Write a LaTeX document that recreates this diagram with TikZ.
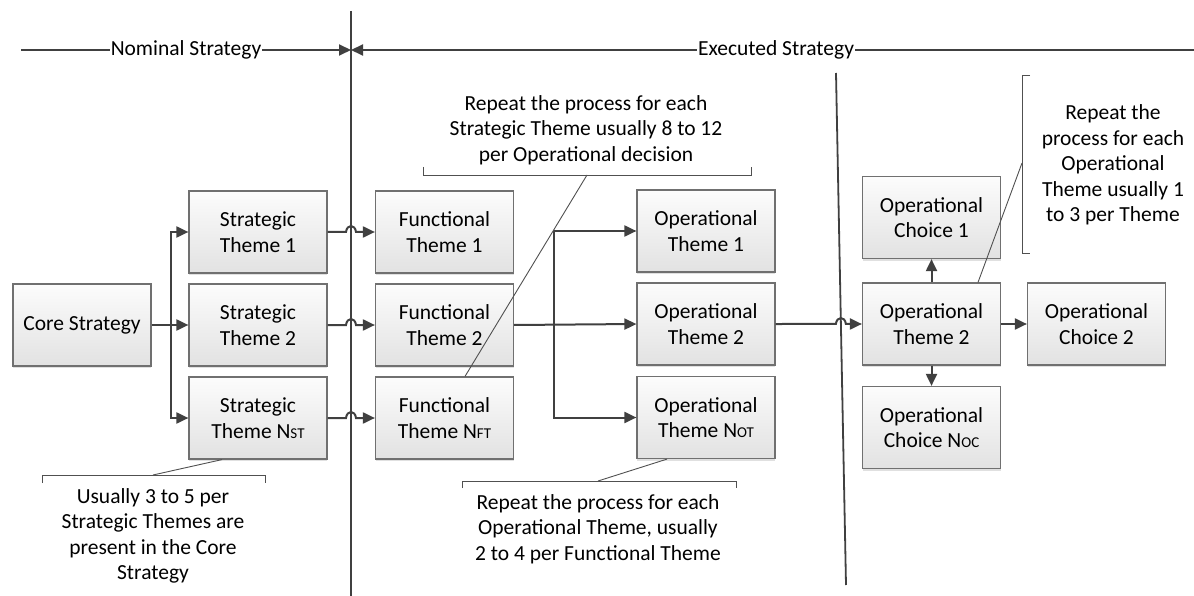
\documentclass[tikz,border=0pt]{standalone}
\usepackage{fontspec}
\setmainfont{Carlito}
\usetikzlibrary{arrows.meta,shadows,calc}

\definecolor{linec}{RGB}{64,64,64}
\definecolor{boxline}{RGB}{112,112,112}
\definecolor{boxtop}{RGB}{252,252,252}
\definecolor{boxbot}{RGB}{226,226,226}
\definecolor{callc}{RGB}{80,80,80}

\newcommand\bodyfont{\fontsize{21.5}{25.5}\selectfont}
\newcommand\subtag[1]{{\fontsize{15}{15}\selectfont #1}}

\tikzset{
  tbox/.style={draw=boxline, line width=1.2pt, top color=boxtop, bottom color=boxbot,
    minimum width=138pt, minimum height=82pt, align=center, inner sep=0pt, font=\bodyfont,
    drop shadow={shadow xshift=0pt, shadow yshift=-2pt, fill=black, opacity=0.12}},
  conn/.style={draw=linec, line width=2pt},
  arr/.style={conn, -{Triangle[length=12pt,width=11pt]}},
  divider/.style={draw=linec, line width=1.8pt},
  callout/.style={draw=callc, line width=0.9pt},
  note/.style={align=center, font=\bodyfont, inner sep=0pt},
  head/.style={font=\bodyfont, inner sep=1pt},
}

\begin{document}
\begin{tikzpicture}[x=1pt,y=-1pt]
\useasboundingbox (0,0) rectangle (1194,596);

% phase dividers
\coordinate (v1t) at (351,11);
\coordinate (v1b) at (351,596);
\coordinate (v2t) at (836,73);
\coordinate (v2b) at (846,585);
\draw[divider] (v1t) -- (v1b);
\draw[divider] (v2t) -- (v2b);

% header
\coordinate (hl) at (21,50);
\coordinate (hm) at (351,50);
\coordinate (hr) at (1194,50);
\node[head] (nom) at (186,50) {Nominal Strategy};
\node[head] (exe) at (776,50) {Executed Strategy};
\draw[conn] (hl) -- (nom.west);
\draw[arr] (nom.east) -- (hm);
\draw[arr] (exe.west) -- (hm);
\draw[conn] (exe.east) -- (hr);

% boxes
\node[tbox] (core) at (82,325) {Core Strategy};
\node[tbox] (st1) at (258,232) {Strategic\\Theme 1};
\node[tbox] (st2) at (258,325) {Strategic\\Theme 2};
\node[tbox] (stN) at (258,418) {Strategic\\Theme N\subtag{ST}};
\node[tbox] (ft1) at (444.5,232) {Functional\\Theme 1};
\node[tbox] (ft2) at (444.5,325) {Functional\\Theme 2};
\node[tbox] (ftN) at (444.5,418) {Functional\\Theme N\subtag{FT}};
\node[tbox] (ot1) at (706,231) {Operational\\Theme 1};
\node[tbox] (ot2) at (706,324) {Operational\\Theme 2};
\node[tbox] (otN) at (706,417.5) {Operational\\Theme N\subtag{OT}};
\node[tbox] (rot2) at (931.5,324) {Operational\\Theme 2};
\node[tbox] (oc1) at (931.5,217.5) {Operational\\Choice 1};
\node[tbox] (oc2) at (1096.5,324) {Operational\\Choice 2};
\node[tbox] (ocN) at (931.5,427.5) {Operational\\Choice N\subtag{OC}};

% core strategy to strategic themes
\coordinate (b1) at (171,325);
\draw[arr] (core.east) -- (st2.west);
\draw[arr] (b1) |- (st1.west);
\draw[arr] (b1) |- (stN.west);

% strategic to functional themes, hopping over the divider
\foreach \a/\b in {st1/ft1, st2/ft2, stN/ftN}{
  \draw[arr] (\a.east) -- ($(\a.east -| v1t)+(-5,0)$)
    .. controls +(1,-8) and +(-1,-8) .. ($(\a.east -| v1t)+(5,0)$) -- (\b.west);
}

% functional theme 2 to operational themes
\coordinate (b2) at (554,325);
\draw[arr] (ft2.east) -- (ot2.west);
\draw[arr] (b2) |- (ot1.west);
\draw[arr] (b2) |- (otN.west);

% operational theme 2 across the second divider
\coordinate (x2) at (intersection of ot2.east--rot2.west and v2t--v2b);
\draw[arr] (ot2.east) -- ($(x2)+(-5,0)$)
  .. controls +(1,-8) and +(-1,-8) .. ($(x2)+(5,0)$) -- (rot2.west);

% operational theme 2 to its choices
\draw[arr] (rot2.north) -- (oc1.south);
\draw[arr] (rot2.east) -- (oc2.west);
\draw[arr] (rot2.south) -- (ocN.north);

% callout: strategic themes repeat
\node[note] (n1) at (586,130) {Repeat the process for each\\Strategic Theme usually 8 to 12\\per Operational decision};
\coordinate (n1a) at (423,167);
\coordinate (n1b) at (751,167);
\coordinate (n1c) at (587,175);
\draw[callout] (n1a) -- (n1a |- n1c) -- (n1b |- n1c) -- (n1b);
\draw[callout] (n1c) -- ([xshift=20.5pt]ftN.north);

% callout: strategic themes per core strategy
\node[note] (n2) at (153,536) {Usually 3 to 5 per\\Strategic Themes are\\present in the Core\\Strategy};
\coordinate (n2a) at (42,483);
\coordinate (n2b) at (265,483);
\coordinate (n2c) at (153,475);
\draw[callout] (n2a) -- (n2a |- n2c) -- (n2b |- n2c) -- (n2b);
\draw[callout] (n2c) -- ([xshift=-36pt]stN.south);

% callout: operational themes repeat
\node[note] (n3) at (598,529) {Repeat the process for each\\Operational Theme, usually\\2 to 4 per Functional Theme};
\coordinate (n3a) at (462,488);
\coordinate (n3b) at (736,488);
\coordinate (n3c) at (598,481);
\draw[callout] (n3a) -- (n3a |- n3c) -- (n3b |- n3c) -- (n3b);
\draw[callout] (n3c) -- ([xshift=-39pt]otN.south);

% callout: operational choices repeat
\node[note] (n4) at (1113,165) {Repeat the\\process for each\\Operational\\Theme usually 1\\to 3 per Theme};
\coordinate (n4a) at (1030,75);
\coordinate (n4b) at (1030,253);
\coordinate (n4c) at (1022,163);
\draw[callout] (n4a) -- (n4a -| n4c) -- (n4b -| n4c) -- (n4b);
\draw[callout] (n4c) -- ([xshift=46.5pt]rot2.north);
\end{tikzpicture}
\end{document}
